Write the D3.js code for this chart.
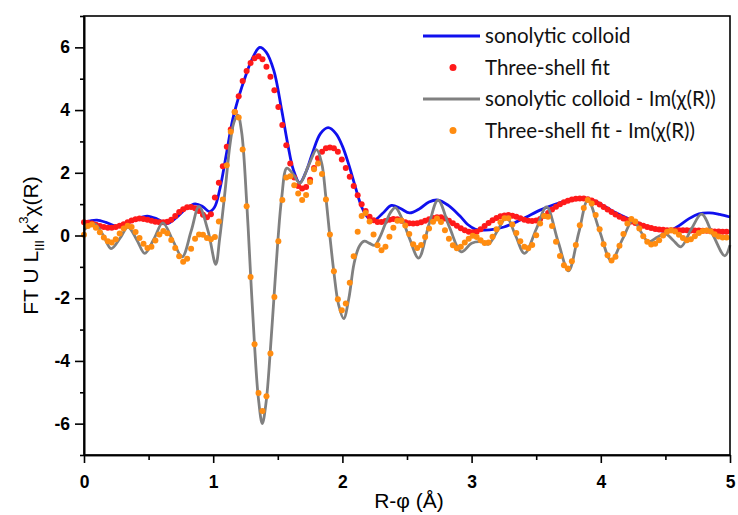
<!DOCTYPE html>
<html>
<head>
<meta charset="utf-8">
<script src="https://cdn.jsdelivr.net/npm/d3@7"></script>
<style>
  body { margin: 0; background: #fff; }
  svg { display: block; }
</style>
</head>
<body>
<div class="graph"></div>
<script>
// R grid step of the fit (dots), in Angstrom
var dr = 0.0307;

// Three-shell fit, magnitude (red dots), one value per grid point
var fitMag = [
  0.42,0.41,0.38,0.34,0.30,0.27,0.25,0.25,0.27,0.31,
  0.36,0.42,0.48,0.52,0.54,0.53,0.50,0.47,0.44,0.42,
  0.42,0.44,0.50,0.62,0.75,0.84,0.90,0.91,0.87,0.78,
  0.66,0.58,0.68,1.21,1.68,2.21,2.83,3.38,3.94,4.44,
  4.93,5.25,5.50,5.65,5.72,5.62,5.38,5.06,4.63,4.10,
  3.52,2.88,2.30,1.85,1.58,1.50,1.55,1.78,2.15,2.46,
  2.67,2.78,2.81,2.78,2.67,2.42,2.15,1.87,1.58,1.28,
  1.00,0.78,0.60,0.49,0.43,0.43,0.46,0.50,0.53,0.52,
  0.47,0.42,0.39,0.38,0.39,0.42,0.47,0.52,0.56,0.58,
  0.58,0.54,0.47,0.39,0.31,0.23,0.17,0.12,0.10,0.12,
  0.20,0.30,0.40,0.49,0.56,0.61,0.64,0.65,0.63,0.60,
  0.55,0.50,0.47,0.46,0.48,0.53,0.62,0.72,0.83,0.92,
  1.00,1.06,1.11,1.15,1.17,1.18,1.18,1.16,1.12,1.06,
  0.99,0.91,0.83,0.75,0.67,0.60,0.54,0.49,0.45,0.40,
  0.35,0.31,0.27,0.24,0.21,0.19,0.18,0.17,0.17,0.17,
  0.17,0.17,0.17,0.16,0.16,0.16,0.15,0.15,0.14,0.13,
  0.13,0.12,0.12
];

// Three-shell fit, Im(chi(R)) (orange dots)
var fitIm = [
  0.02,0.30,0.35,0.25,0.10,-0.06,-0.18,-0.22,-0.12,0.06,
  0.22,0.31,0.27,0.11,-0.08,-0.26,-0.40,-0.36,-0.16,0.03,
  0.14,0.07,-0.14,-0.40,-0.66,-0.84,-0.74,-0.42,-0.10,0.03,
  0.02,-0.08,-0.12,-0.05,0.45,1.15,2.24,3.31,3.94,3.76,
  2.74,0.93,-1.32,-3.47,-5.02,-5.60,-5.13,-3.76,-1.96,-0.18,
  1.13,1.85,1.89,1.60,1.34,1.13,1.29,1.71,2.11,2.30,
  1.96,1.15,0.03,-1.14,-2.03,-2.38,-2.17,-1.51,-0.66,0.12,
  0.62,0.72,0.45,0.03,-0.31,-0.47,-0.36,-0.04,0.25,0.47,
  0.48,0.32,0.05,-0.28,-0.40,-0.30,-0.05,0.22,0.44,0.54,
  0.43,0.17,-0.10,-0.31,-0.41,-0.36,-0.22,-0.10,-0.01,-0.05,
  -0.15,-0.24,-0.22,-0.04,0.20,0.42,0.55,0.55,0.35,0.08,
  -0.18,-0.36,-0.41,-0.30,0.01,0.38,0.62,0.60,0.30,-0.20,
  -0.65,-0.95,-1.05,-0.82,-0.30,0.33,0.88,1.13,1.02,0.65,
  0.20,-0.28,-0.63,-0.80,-0.68,-0.33,0.05,0.38,0.53,0.45,
  0.22,-0.02,-0.20,-0.29,-0.26,-0.15,0.00,0.12,0.17,0.13,
  0.02,-0.08,-0.15,-0.12,-0.02,0.08,0.14,0.16,0.13,0.04,
  -0.03,-0.06,-0.06
];

// sonolytic colloid, magnitude (blue line)
var colloidR = [0,0.05,0.10,0.17,0.25,0.32,0.40,0.49,0.57,0.64,0.71,0.79,0.86,0.92,0.97,1.01,1.05,1.10,1.15,1.20,
  1.25,1.30,1.36,1.41,1.47,1.53,1.58,1.62,1.67,1.72,1.77,1.83,1.89,1.95,2.00,2.05,2.10,2.15,2.20,2.25,
  2.31,2.38,2.45,2.52,2.60,2.67,2.74,2.82,2.91,2.97,3.03,3.10,3.18,3.25,3.32,3.42,3.53,3.64,3.75,3.86,
  3.93,4.00,4.10,4.24,4.35,4.45,4.52,4.60,4.68,4.76,4.84,4.92,5.00];
var colloidMag = [0.42,0.47,0.49,0.42,0.30,0.36,0.52,0.62,0.52,0.38,0.55,0.86,1.01,0.92,0.76,0.90,1.45,2.55,3.68,4.45,
  5.08,5.62,6.00,5.85,5.25,4.00,2.85,2.10,1.68,2.05,2.65,3.25,3.44,3.25,2.85,2.25,1.55,0.90,0.56,0.50,
  0.70,0.96,0.86,0.72,0.86,1.07,1.13,0.96,0.62,0.35,0.20,0.17,0.20,0.27,0.38,0.58,0.81,0.99,1.12,1.19,
  1.14,1.00,0.76,0.49,0.30,0.16,0.13,0.30,0.53,0.69,0.72,0.67,0.59];

// sonolytic colloid, Im(chi(R)) (grey line)
var colloidImR = [0,0.04,0.085,0.15,0.21,0.28,0.34,0.41,0.47,0.54,0.61,0.69,0.76,0.83,0.89,0.96,1.02,1.05,1.09,1.13,
  1.16,1.19,1.22,1.26,1.29,1.32,1.35,1.38,1.41,1.44,1.47,1.50,1.53,1.57,1.62,1.67,1.74,1.80,1.84,1.87,
  1.90,1.935,1.97,2.01,2.05,2.09,2.13,2.17,2.21,2.25,2.29,2.33,2.37,2.41,2.46,2.52,2.59,2.67,2.74,2.83,
  2.92,3.00,3.07,3.13,3.20,3.27,3.34,3.41,3.50,3.58,3.67,3.75,3.83,3.90,3.99,4.08,4.17,4.25,4.31,4.37,
  4.44,4.50,4.56,4.62,4.70,4.78,4.87,4.96,5.00];
var colloidIm = [0.18,0.31,0.36,0.00,-0.42,-0.08,0.27,-0.15,-0.57,-0.12,0.40,-0.18,-0.68,0.15,0.93,0.15,-0.92,-0.10,1.35,2.90,
  3.60,3.84,3.30,1.00,-1.30,-3.50,-5.20,-6.00,-5.30,-3.80,-2.00,-0.20,1.20,2.15,1.95,1.67,2.25,2.74,2.30,1.30,
  0.10,-1.20,-2.20,-2.65,-2.00,-0.90,-0.35,-0.18,-0.25,-0.31,-0.05,0.35,0.72,0.89,0.55,-0.10,-0.72,0.35,1.13,0.25,
  -0.52,-0.25,-0.20,-0.28,0.15,0.59,0.00,-0.57,0.20,0.91,-0.20,-1.13,0.10,1.13,0.15,-0.79,-0.10,0.50,0.12,-0.20,
  -0.05,0.05,-0.15,-0.36,0.20,0.68,0.00,-0.65,-0.31];

var xTicks = [0, 1, 2, 3, 4, 5];
var xMinor = [0.5, 1.5, 2.5, 3.5, 4.5];
var yTicks = [-6, -4, -2, 0, 2, 4, 6];
var yMinor = [-7, -5, -3, -1, 1, 3, 5, 7];

var legendLabels = ["sonolytic colloid", "Three-shell fit",
  "sonolytic colloid - Im(\u03c7(R))", "Three-shell fit - Im(\u03c7(R))"];

var margin = {top: 16, right: 8, bottom: 60, left: 84},
    width = 738 - margin.left - margin.right,
    height = 515 - margin.top - margin.bottom;

var x = d3.scaleLinear().domain([0, 5]).range([0, width]);
var y = d3.scaleLinear().domain([-7, 7]).range([height, 0]);

var svg = d3.select(".graph").append("svg")
    .attr("width", 738)
    .attr("height", 515)
  .append("g")
    .attr("transform", "translate(" + margin.left + "," + margin.top + ")");

var line = d3.line()
    .x(function(d) { return x(d[0]); })
    .y(function(d) { return y(d[1]); })
    .curve(d3.curveCatmullRom.alpha(0.5));

var magLine = colloidR.map(function(r, i) { return [r, colloidMag[i]]; });
var imLine = colloidImR.map(function(r, i) { return [r, colloidIm[i]]; });
var magDots = fitMag.map(function(v, i) { return [i * dr, v]; });
var imDots = fitIm.map(function(v, i) { return [i * dr, v]; });

var plot = svg.append("g");

plot.append("path")
    .datum(magLine)
    .attr("fill", "none")
    .attr("stroke", "#1010ee")
    .attr("stroke-width", 2.8)
    .attr("d", line);

plot.selectAll(".mag-dot")
    .data(magDots)
  .enter().append("circle")
    .attr("class", "mag-dot")
    .attr("cx", function(d) { return x(d[0]); })
    .attr("cy", function(d) { return y(d[1]); })
    .attr("r", 3)
    .attr("fill", "#ff1a1a");

plot.append("path")
    .datum(imLine)
    .attr("fill", "none")
    .attr("stroke", "#808080")
    .attr("stroke-width", 2.8)
    .attr("d", line);

plot.selectAll(".im-dot")
    .data(imDots)
  .enter().append("circle")
    .attr("class", "im-dot")
    .attr("cx", function(d) { return x(d[0]); })
    .attr("cy", function(d) { return y(d[1]); })
    .attr("r", 3)
    .attr("fill", "#ff8c10");

// frame
svg.append("rect")
    .attr("width", width)
    .attr("height", height)
    .attr("fill", "none")
    .attr("stroke", "#000")
    .attr("stroke-width", 1.6);

// axes
svg.append("g")
    .attr("transform", "translate(0," + height + ")")
    .call(d3.axisBottom(x).tickValues(xTicks).tickSize(8).tickSizeOuter(0)
      .tickPadding(13).tickFormat(function(d) { return String(d); }));
svg.append("g")
    .attr("transform", "translate(0," + height + ")")
    .call(d3.axisBottom(x).tickValues(xMinor).tickSize(5).tickSizeOuter(0).tickFormat(""));

svg.append("g")
    .call(d3.axisLeft(y).tickValues(yTicks).tickSize(9).tickSizeOuter(0)
      .tickPadding(5).tickFormat(function(d) { return String(d); }));
svg.append("g")
    .call(d3.axisLeft(y).tickValues(yMinor).tickSize(4).tickSizeOuter(0).tickFormat(""));

svg.selectAll(".domain, .tick line").attr("stroke", "#000").attr("stroke-width", 1.6);
svg.selectAll(".tick text")
    .attr("font-family", "'Liberation Sans', Arial, sans-serif")
    .attr("font-weight", "bold")
    .attr("font-size", 17.5)
    .attr("fill", "#000");

// axis titles
svg.append("text")
    .attr("x", width / 2 + 2)
    .attr("y", height + 53)
    .attr("text-anchor", "middle")
    .attr("font-family", "'Liberation Sans', Arial, sans-serif")
    .attr("font-size", 21)
    .text("R-\u03c6 (\u00c5)");

var yTitle = svg.append("text")
    .attr("transform", "translate(" + (-46) + "," + (y(0) + 10) + ") rotate(-90)")
    .attr("text-anchor", "middle")
    .attr("font-family", "'Liberation Sans', Arial, sans-serif")
    .attr("font-size", 21);
yTitle.append("tspan").text("FT U L");
yTitle.append("tspan").attr("font-size", 13).attr("dy", 6).text("III");
yTitle.append("tspan").attr("dy", -6).text(" k");
yTitle.append("tspan").attr("font-size", 13).attr("dy", -10).text("3");
yTitle.append("tspan").attr("dy", 10).text("\u03c7(R)");

// legend
var legend = svg.append("g")
    .attr("transform", "translate(" + (423 - margin.left) + "," + (36 - margin.top) + ")");
var rowGap = 31.5;
legendLabels.forEach(function(label, i) {
  var g = legend.append("g").attr("transform", "translate(0," + (i * rowGap) + ")");
  if (i % 2 === 0) {
    g.append("line")
        .attr("x1", 0).attr("x2", 57)
        .attr("stroke", i === 0 ? "#1010ee" : "#808080")
        .attr("stroke-width", 2.8);
  } else {
    g.append("circle")
        .attr("cx", 30).attr("r", 3.5)
        .attr("fill", i === 1 ? "#ff1a1a" : "#ff8c10");
  }
  g.append("text")
      .attr("x", 62)
      .attr("y", 7)
      .attr("font-family", "Lato, 'Open Sans', sans-serif")
      .attr("font-size", 20.5)
      .attr("fill", "#111")
      .text(label);
});
</script>
</body>
</html>
